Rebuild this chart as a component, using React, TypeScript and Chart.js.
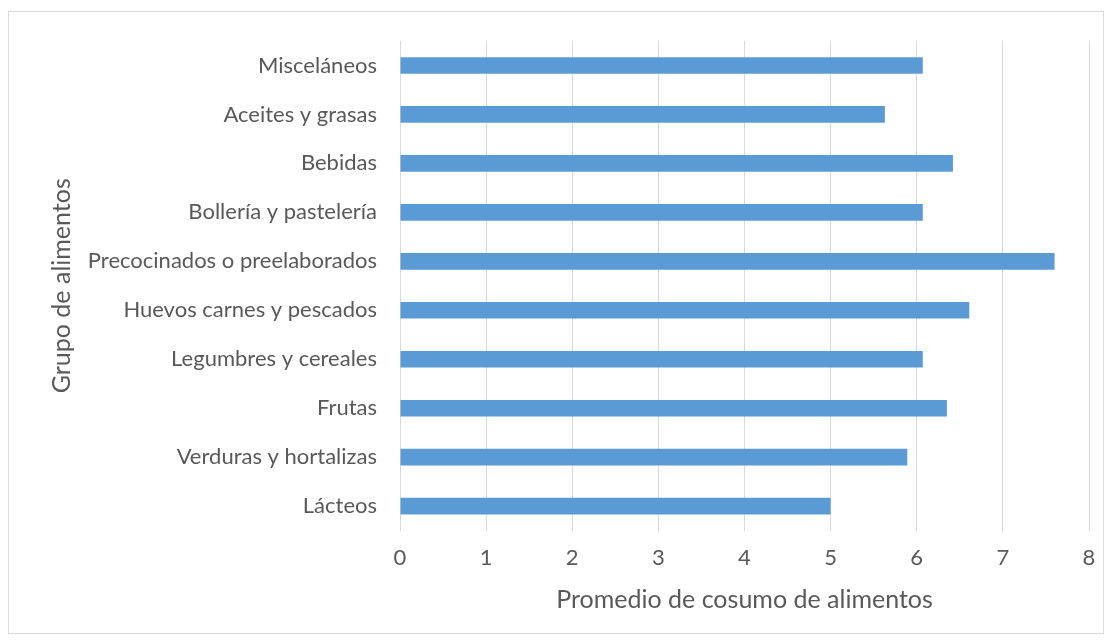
import React, { useEffect, useRef } from "react";
import { Chart, registerables } from "chart.js";

Chart.register(...registerables);

const categories = [
  "Misceláneos",
  "Aceites y grasas",
  "Bebidas",
  "Bollería y pastelería",
  "Precocinados o preelaborados",
  "Huevos carnes y pescados",
  "Legumbres y cereales",
  "Frutas",
  "Verduras y hortalizas",
  "Lácteos",
];
const values = [6.07, 5.63, 6.42, 6.07, 7.6, 6.61, 6.07, 6.35, 5.89, 5.0];
const xTitle = "Promedio de cosumo de alimentos";
const yTitle = "Grupo de alimentos";

const FONT = "Lato, 'Open Sans', sans-serif";
const TEXT = "#595959";

export default function App() {
  const ref = useRef<HTMLCanvasElement | null>(null);
  useEffect(() => {
    if (!ref.current) return;
    const chart = new Chart(ref.current, {
      type: "bar",
      data: {
        labels: categories,
        datasets: [
          {
            data: values,
            backgroundColor: "#5b9bd5",
            borderColor: "#5b9bd5",
            borderWidth: 0,
            barPercentage: 0.68,
            categoryPercentage: 0.5,
          },
        ],
      },
      options: {
        indexAxis: "y",
        animation: false,
        responsive: false,
        maintainAspectRatio: false,
        layout: { padding: { top: 29, right: 14, left: 0, bottom: 0 } },
        plugins: { legend: { display: false }, tooltip: { enabled: false } },
        scales: {
          x: {
            min: 0,
            max: 8,
            ticks: {
              stepSize: 1,
              color: TEXT,
              padding: 14,
              font: { family: FONT, size: 22 },
            },
            grid: { color: "#d9d9d9", lineWidth: 1, drawTicks: false },
            border: { display: false },
            title: {
              display: true,
              text: xTitle,
              color: TEXT,
              font: { family: FONT, size: 25 },
              padding: { top: 0, bottom: 18 },
            },
            afterFit: (scale: any) => {
              scale.paddingRight = 0;
              scale.paddingLeft = 0;
            },
          },
          y: {
            ticks: {
              color: TEXT,
              padding: 23,
              font: { family: FONT, size: 22 },
            },
            grid: { display: false, drawTicks: false },
            border: { display: false },
            title: {
              display: true,
              text: yTitle,
              color: TEXT,
              font: { family: FONT, size: 25 },
              padding: { top: 38, bottom: 0 },
            },
            afterFit: (scale: any) => {
              scale.width = 391;
              scale.paddingTop = 0;
              scale.paddingBottom = 0;
            },
          },
        },
      },
    });
    return () => chart.destroy();
  }, []);
  return (
    <div style={{ paddingTop: 3 }}>
      <div
        style={{
          width: 1094,
          height: 621,
          border: "1px solid #d9d9d9",
        }}
      >
        <canvas ref={ref} width={1094} height={621} style={{ display: "block" }} />
      </div>
    </div>
  );
}
